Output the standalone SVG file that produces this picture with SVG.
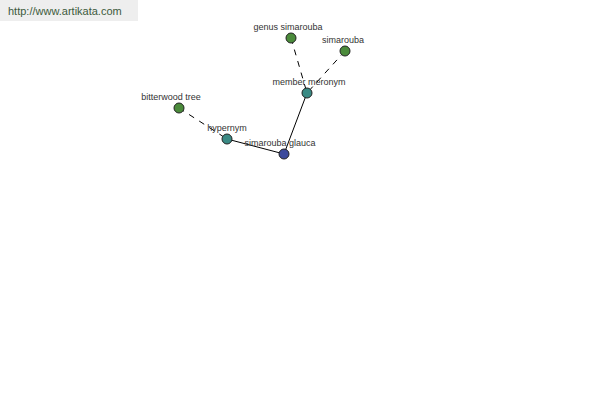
<svg xmlns="http://www.w3.org/2000/svg" width="600" height="400" viewBox="0 0 600 400">
<style>
.lbl{font-family:"Liberation Sans",Arial,sans-serif;font-size:9px;fill:#333;text-anchor:middle}
.n circle{stroke:#222;stroke-width:1}
.g{fill:#4b8b3b}.t{fill:#3a8a84}.b{fill:#3c4a9c}
.e{stroke:#000;stroke-width:1;fill:none}
.d{stroke-dasharray:6,6}
</style>
<rect width="600" height="400" fill="#fff"/>
<g id="banner">
<rect x="0" y="0" width="138" height="21" fill="#eeeeee"/>
<text x="8" y="15" font-family="'Liberation Sans',Arial,sans-serif" font-size="11" fill="#3c5a3c">http://www.artikata.com</text>
</g>
<g id="connectors">
<line class="e d" x1="291" y1="38" x2="307" y2="93"/>
<line class="e d" x1="345" y1="51" x2="307" y2="93"/>
<line class="e d" x1="179" y1="108" x2="227" y2="139"/>
<line class="e" x1="227" y1="139" x2="284" y2="154"/>
<line class="e" x1="307" y1="93" x2="284" y2="154"/>
</g>
<g id="genus-simarouba" class="n"><circle class="g" cx="291" cy="38" r="5"/><text class="lbl" x="288" y="30">genus simarouba</text></g>
<g id="simarouba" class="n"><circle class="g" cx="345" cy="51" r="5"/><text class="lbl" x="343" y="43">simarouba</text></g>
<g id="member-meronym" class="n"><circle class="t" cx="307" cy="93" r="5"/><text class="lbl" x="309" y="85">member meronym</text></g>
<g id="bitterwood-tree" class="n"><circle class="g" cx="179" cy="108" r="5"/><text class="lbl" x="171" y="100">bitterwood tree</text></g>
<g id="hypernym" class="n"><circle class="t" cx="227" cy="139" r="5"/><text class="lbl" x="227" y="131">hypernym</text></g>
<g id="simarouba-glauca" class="n"><circle class="b" cx="284" cy="154" r="5"/><text class="lbl" x="280" y="146">simarouba glauca</text></g>
</svg>
